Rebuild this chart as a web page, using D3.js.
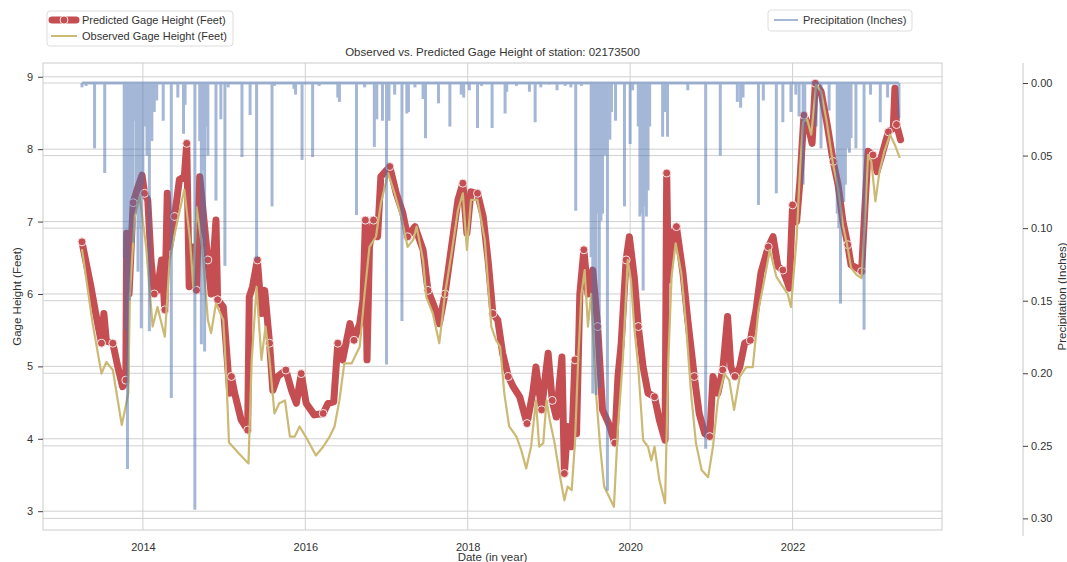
<!DOCTYPE html>
<html>
<head>
<meta charset="utf-8">
<script src="https://cdn.jsdelivr.net/npm/d3@7"></script>
<style>
  body { margin: 0; background: #fff; }
  text { font-family: "Liberation Sans", Arial, sans-serif; fill: #333; }
</style>
</head>
<body>
<svg id="chart" width="1067" height="562"></svg>
<script>
// observed gage height (feet)
const obsYear = [2013.25,2013.38,2013.49,2013.55,2013.63,2013.74,2013.77,2013.82,2013.84,2013.90,2013.96,2014.04,2014.12,2014.18,2014.27,2014.33,2014.41,2014.51,2014.58,2014.62,2014.66,2014.73,2014.80,2014.84,2014.90,2014.99,2015.03,2015.06,2015.18,2015.30,2015.34,2015.40,2015.46,2015.51,2015.56,2015.62,2015.68,2015.75,2015.81,2015.87,2015.93,2016.03,2016.13,2016.22,2016.30,2016.36,2016.42,2016.48,2016.57,2016.67,2016.73,2016.79,2016.87,2016.93,2017.02,2017.10,2017.18,2017.26,2017.33,2017.37,2017.45,2017.49,2017.57,2017.65,2017.72,2017.80,2017.88,2017.94,2017.99,2018.04,2018.12,2018.21,2018.29,2018.35,2018.40,2018.45,2018.51,2018.60,2018.66,2018.72,2018.78,2018.84,2018.88,2018.93,2018.97,2019.01,2019.07,2019.13,2019.19,2019.23,2019.28,2019.32,2019.36,2019.40,2019.44,2019.48,2019.52,2019.58,2019.63,2019.68,2019.80,2019.85,2019.91,2019.97,2020.01,2020.05,2020.10,2020.16,2020.22,2020.26,2020.30,2020.36,2020.43,2020.47,2020.51,2020.56,2020.63,2020.69,2020.75,2020.81,2020.88,2020.96,2021.02,2021.08,2021.16,2021.22,2021.28,2021.35,2021.43,2021.51,2021.58,2021.66,2021.72,2021.80,2021.88,2021.94,2021.98,2022.05,2022.09,2022.13,2022.18,2022.23,2022.29,2022.35,2022.42,2022.50,2022.56,2022.62,2022.68,2022.72,2022.79,2022.85,2022.89,2022.93,2022.97,2023.02,2023.07,2023.13,2023.20,2023.26,2023.32];
const obsVal = [6.62,5.60,4.90,5.06,4.95,4.19,4.35,4.63,6.00,7.07,7.35,6.65,5.55,5.82,5.41,6.47,6.93,7.44,6.75,6.10,7.20,6.65,5.64,5.46,5.87,5.64,4.80,3.95,3.80,3.66,5.09,6.10,5.09,5.55,5.09,4.35,4.49,4.53,4.03,4.03,4.17,3.98,3.77,3.89,4.03,4.17,4.53,5.04,5.04,5.27,6.00,6.65,6.79,7.25,7.67,7.39,7.07,6.65,6.75,6.93,6.47,5.96,5.73,5.32,6.00,6.56,7.16,7.39,6.61,7.30,7.30,6.75,5.55,5.36,5.27,4.63,4.17,4.03,3.84,3.59,3.89,4.53,3.89,3.94,4.53,4.26,3.94,3.52,3.15,3.34,3.29,3.94,5.09,6.00,6.33,5.55,6.00,4.63,3.90,3.34,3.06,4.17,5.09,6.47,6.19,5.55,4.99,3.98,3.89,3.70,3.89,3.43,3.11,5.09,6.24,6.70,6.29,5.55,4.63,3.94,3.57,3.47,3.89,4.53,4.90,4.81,4.40,4.86,4.99,4.99,5.78,6.24,6.61,6.24,6.10,6.00,5.82,6.77,7.69,8.38,8.41,8.20,8.89,8.80,8.38,7.78,7.46,6.95,6.63,6.36,6.26,6.22,7.00,7.92,7.83,7.28,7.69,7.97,8.20,8.06,7.88];

// predicted gage height (feet)
const predYear = [2013.25,2013.36,2013.42,2013.49,2013.52,2013.55,2013.63,2013.69,2013.75,2013.79,2013.80,2013.83,2013.88,2013.94,2013.99,2014.02,2014.06,2014.10,2014.14,2014.18,2014.23,2014.27,2014.30,2014.33,2014.39,2014.45,2014.51,2014.54,2014.57,2014.61,2014.66,2014.70,2014.74,2014.80,2014.84,2014.90,2014.92,2014.99,2015.07,2015.09,2015.13,2015.21,2015.29,2015.31,2015.35,2015.41,2015.46,2015.50,2015.56,2015.60,2015.66,2015.76,2015.83,2015.89,2015.95,2016.01,2016.11,2016.22,2016.28,2016.35,2016.40,2016.46,2016.55,2016.60,2016.67,2016.71,2016.74,2016.76,2016.79,2016.84,2016.89,2016.93,2017.04,2017.12,2017.20,2017.26,2017.35,2017.45,2017.51,2017.59,2017.65,2017.72,2017.80,2017.88,2017.94,2017.99,2018.04,2018.12,2018.19,2018.25,2018.31,2018.37,2018.43,2018.50,2018.56,2018.64,2018.73,2018.80,2018.84,2018.91,2018.95,2018.99,2019.04,2019.09,2019.16,2019.19,2019.23,2019.28,2019.32,2019.34,2019.38,2019.43,2019.48,2019.54,2019.60,2019.66,2019.75,2019.81,2019.85,2019.89,2019.95,2019.99,2020.05,2020.10,2020.16,2020.22,2020.30,2020.36,2020.43,2020.45,2020.47,2020.53,2020.57,2020.65,2020.71,2020.79,2020.85,2020.92,2020.98,2021.02,2021.08,2021.14,2021.20,2021.24,2021.29,2021.35,2021.41,2021.48,2021.55,2021.61,2021.70,2021.76,2021.82,2021.88,2021.94,2021.96,2022.00,2022.05,2022.09,2022.14,2022.19,2022.24,2022.28,2022.35,2022.42,2022.50,2022.56,2022.62,2022.68,2022.72,2022.79,2022.85,2022.89,2022.93,2022.99,2023.04,2023.10,2023.18,2023.24,2023.26,2023.28,2023.33];
const predVal = [6.72,6.10,5.73,5.32,5.73,5.35,5.32,5.00,4.72,4.81,6.84,6.00,7.26,7.48,7.64,7.39,7.30,6.47,6.00,6.05,6.47,5.78,7.39,6.65,7.07,7.58,7.62,8.08,6.10,6.65,6.05,7.62,7.16,6.47,6.00,7.02,5.92,5.82,4.63,4.86,4.63,4.26,4.12,5.96,6.10,6.47,5.73,6.05,5.32,4.67,4.86,4.95,4.67,4.49,4.90,4.49,4.33,4.35,4.49,4.51,5.32,5.09,5.59,5.36,5.59,5.92,7.02,5.09,6.65,7.02,6.79,7.62,7.76,7.39,7.12,6.79,6.93,6.61,6.05,5.82,5.59,6.00,6.65,7.30,7.53,6.84,7.41,7.39,7.07,6.47,5.73,5.64,5.18,4.86,4.72,4.58,4.21,4.63,4.99,4.40,4.81,5.18,4.53,4.30,5.13,3.52,4.17,3.89,5.09,4.07,6.00,6.61,6.00,6.33,5.55,4.40,4.17,3.94,4.86,5.32,6.47,6.79,6.24,5.55,4.99,4.63,4.58,4.26,3.98,7.67,6.19,6.84,6.93,6.29,5.64,4.86,4.35,4.07,4.03,4.86,4.63,4.95,5.69,4.99,4.86,4.99,5.32,5.36,5.78,6.29,6.65,6.79,6.38,6.33,6.15,6.08,7.23,7.00,7.55,8.47,8.34,8.08,8.91,8.80,8.38,7.83,7.51,7.00,6.68,6.40,6.36,6.31,7.18,7.97,7.92,7.69,7.92,8.24,8.29,8.84,8.34,8.13];

// daily precipitation spikes (inches), zero on all other days
const rainYear = [2013.25,2013.30,2013.405,2013.53,2013.77,2013.79,2013.80,2013.81,2013.83,2013.85,2013.87,2013.88,2013.90,2013.92,2013.94,2013.96,2013.98,2014.00,2014.03,2014.05,2014.08,2014.11,2014.14,2014.17,2014.25,2014.35,2014.43,2014.50,2014.52,2014.64,2014.70,2014.72,2014.74,2014.76,2014.78,2014.80,2014.90,2014.96,2015.01,2015.05,2015.22,2015.32,2015.40,2015.59,2015.62,2015.86,2015.88,2015.96,2016.09,2016.17,2016.40,2016.42,2016.63,2016.73,2016.85,2016.88,2016.95,2017.00,2017.03,2017.10,2017.19,2017.25,2017.27,2017.35,2017.45,2017.48,2017.64,2017.78,2017.92,2017.95,2018.02,2018.12,2018.17,2018.30,2018.46,2018.48,2018.60,2018.76,2018.83,2018.90,2019.00,2019.10,2019.20,2019.27,2019.33,2019.40,2019.52,2019.54,2019.56,2019.58,2019.60,2019.62,2019.64,2019.66,2019.69,2019.72,2019.75,2019.77,2019.82,2019.93,2020.00,2020.03,2020.10,2020.12,2020.14,2020.16,2020.18,2020.20,2020.22,2020.24,2020.40,2020.43,2020.46,2020.71,2020.93,2021.11,2021.32,2021.36,2021.39,2021.58,2021.64,2021.80,2021.88,2021.98,2022.04,2022.08,2022.13,2022.15,2022.29,2022.35,2022.45,2022.55,2022.57,2022.59,2022.61,2022.63,2022.65,2022.67,2022.70,2022.72,2022.78,2022.88,2022.96,2023.08,2023.17,2023.31];
const rainVal = [0.003,0.002,0.045,0.062,0.12,0.17,0.14,0.266,0.15,0.10,0.05,0.11,0.026,0.09,0.13,0.10,0.169,0.07,0.03,0.05,0.171,0.04,0.02,0.012,0.026,0.217,0.01,0.035,0.015,0.294,0.04,0.18,0.06,0.185,0.03,0.05,0.081,0.025,0.126,0.003,0.051,0.022,0.122,0.085,0.002,0.004,0.008,0.053,0.051,0.002,0.010,0.013,0.091,0.003,0.044,0.025,0.026,0.194,0.026,0.008,0.164,0.021,0.02,0.003,0.011,0.038,0.014,0.030,0.008,0.010,0.005,0.031,0.002,0.031,0.021,0.006,0.002,0.006,0.027,0.003,0.001,0.005,0.002,0.003,0.088,0.002,0.12,0.214,0.19,0.215,0.09,0.21,0.095,0.09,0.05,0.281,0.039,0.02,0.026,0.085,0.042,0.005,0.03,0.092,0.09,0.143,0.085,0.092,0.074,0.03,0.037,0.02,0.037,0.005,0.252,0.050,0.013,0.017,0.010,0.084,0.012,0.076,0.027,0.020,0.008,0.023,0.070,0.03,0.03,0.045,0.019,0.09,0.10,0.152,0.08,0.082,0.07,0.045,0.048,0.038,0.045,0.170,0.008,0.027,0.010,0.024];

const yearTicks = [2014, 2016, 2018, 2020, 2022];
const gageTicks = [3, 4, 5, 6, 7, 8, 9];
const rainTicks = [0, 0.05, 0.10, 0.15, 0.20, 0.25, 0.30];

const RED = "#c44e52", GOLD = "#ccb974", BLUE = "#4c72b0";
const L = 43, R = 942, T = 63, B = 530;

const svg = d3.select("#chart");

const x = d3.scaleLinear().domain([2012.77, 2023.84]).range([L, R]);
const y = d3.scaleLinear().domain([2.74, 9.19]).range([B, T]);
const yRain = d3.scaleLinear().domain([-0.0138, 0.308]).range([T, B]);

// grid lines
const grid = svg.append("g").attr("stroke", "#d0d0d0").attr("stroke-width", 1);
grid.selectAll(".gx").data(yearTicks).join("line")
    .attr("x1", d => x(d)).attr("x2", d => x(d)).attr("y1", T).attr("y2", B);
grid.selectAll(".gy").data(gageTicks).join("line")
    .attr("x1", L).attr("x2", R).attr("y1", d => y(d)).attr("y2", d => y(d));
grid.selectAll(".gr").data(rainTicks).join("line")
    .attr("x1", L).attr("x2", R).attr("y1", d => yRain(d)).attr("y2", d => yRain(d));

// predicted line with hollow markers
const predPts = predYear.map((t, i) => [t, predVal[i]]);
const obsPts = obsYear.map((t, i) => [t, obsVal[i]]);
const line = d3.line().x(d => x(d[0])).y(d => y(d[1]));

svg.append("path").datum(predPts)
    .attr("d", line).attr("fill", "none")
    .attr("stroke", RED).attr("stroke-width", 7).attr("stroke-linejoin", "round").attr("stroke-linecap", "round");

svg.append("g").selectAll("circle")
    .data(predPts.filter((d, i) => i % 3 === 0))
    .join("circle")
    .attr("cx", d => x(d[0])).attr("cy", d => y(d[1])).attr("r", 4)
    .attr("fill", RED).attr("stroke", "#f6e4e4").attr("stroke-width", 1);

svg.append("path").datum(obsPts)
    .attr("d", line).attr("fill", "none")
    .attr("stroke", GOLD).attr("stroke-width", 2.2).attr("stroke-linejoin", "round");

// precipitation drawn on top, half transparent as one layer
const rain = svg.append("g").attr("opacity", 0.5).attr("stroke", BLUE).attr("stroke-width", 3);
rain.append("line")
    .attr("x1", x(rainYear[0])).attr("x2", x(rainYear[rainYear.length - 1]))
    .attr("y1", yRain(0)).attr("y2", yRain(0));
rain.selectAll(".spike").data(rainYear).join("line")
    .attr("x1", d => x(d)).attr("x2", d => x(d))
    .attr("y1", yRain(0)).attr("y2", (d, i) => yRain(rainVal[i]));

// frame
svg.append("rect").attr("x", L).attr("y", T).attr("width", R - L).attr("height", B - T)
    .attr("fill", "none").attr("stroke", "#cccccc");

// left axis
const axL = svg.append("g").attr("transform", `translate(${L},0)`)
    .call(d3.axisLeft(y).tickValues(gageTicks).tickSize(5).tickPadding(5).tickFormat(d3.format("d")));
axL.select(".domain").remove();
axL.selectAll("line").attr("stroke", "#444");
axL.selectAll("text").attr("font-size", 11).attr("fill", "#333");

// bottom axis
const axB = svg.append("g").attr("transform", `translate(0,${B})`)
    .call(d3.axisBottom(x).tickValues(yearTicks).tickSize(0).tickPadding(13).tickFormat(d3.format("d")));
axB.select(".domain").remove();
axB.selectAll("text").attr("font-size", 11).attr("fill", "#333");

// right precipitation axis, offset from the plot
const axR = svg.append("g").attr("transform", "translate(1023,0)")
    .call(d3.axisRight(yRain).tickValues(rainTicks).tickSize(5).tickPadding(3).tickFormat(d3.format(".2f")));
axR.select(".domain").attr("stroke", "#c8c8c8").attr("d", `M0,${T}V${B + 6}`);
axR.selectAll("line").attr("stroke", "#444");
axR.selectAll("text").attr("font-size", 11).attr("fill", "#333");

// titles
svg.append("text").attr("x", (L + R) / 2).attr("y", 56).attr("text-anchor", "middle")
    .attr("font-size", 11.5).text("Observed vs. Predicted Gage Height of station: 02173500");
svg.append("text").attr("x", (L + R) / 2).attr("y", 561).attr("text-anchor", "middle")
    .attr("font-size", 11.5).text("Date (in year)");
svg.append("text").attr("transform", `translate(21,${(T + B) / 2}) rotate(-90)`)
    .attr("text-anchor", "middle").attr("font-size", 11.5).text("Gage Height (Feet)");
svg.append("text").attr("transform", `translate(1066,${(T + B) / 2}) rotate(-90)`)
    .attr("text-anchor", "middle").attr("font-size", 11.5).text("Precipitation (Inches)");

// legend, left
const lg = svg.append("g");
lg.append("rect").attr("x", 47).attr("y", 11).attr("width", 186).attr("height", 35).attr("rx", 3)
    .attr("fill", "#fff").attr("stroke", "#dddddd");
lg.append("line").attr("x1", 52).attr("x2", 76).attr("y1", 20).attr("y2", 20)
    .attr("stroke", RED).attr("stroke-width", 7).attr("stroke-linecap", "round");
lg.append("circle").attr("cx", 64).attr("cy", 20).attr("r", 4)
    .attr("fill", RED).attr("stroke", "#f6e4e4");
lg.append("line").attr("x1", 51).attr("x2", 77).attr("y1", 36).attr("y2", 36)
    .attr("stroke", GOLD).attr("stroke-width", 2);
lg.append("text").attr("x", 82).attr("y", 24).attr("font-size", 11).text("Predicted Gage Height (Feet)");
lg.append("text").attr("x", 82).attr("y", 40).attr("font-size", 11).text("Observed Gage Height (Feet)");

// legend, right
const rg = svg.append("g");
rg.append("rect").attr("x", 768).attr("y", 10).attr("width", 144).attr("height", 21).attr("rx", 3)
    .attr("fill", "#fff").attr("stroke", "#dddddd");
rg.append("line").attr("x1", 774).attr("x2", 798).attr("y1", 20).attr("y2", 20)
    .attr("stroke", BLUE).attr("stroke-opacity", 0.5).attr("stroke-width", 2);
rg.append("text").attr("x", 803).attr("y", 24).attr("font-size", 11).text("Precipitation (Inches)");
</script>
</body>
</html>
